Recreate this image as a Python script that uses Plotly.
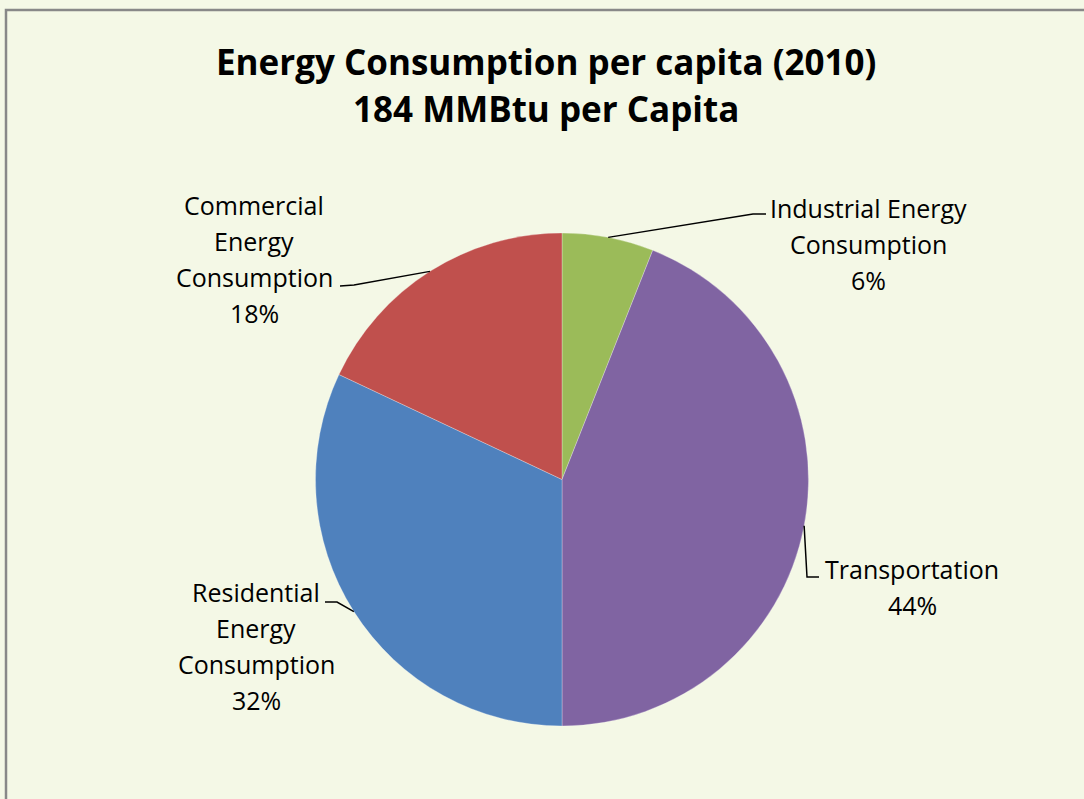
import math
import plotly.graph_objects as go

# Energy use per capita by sector, 2010 (percent of 184 MMBtu)
sectors = ["Industrial Energy Consumption", "Transportation",
           "Residential Energy Consumption", "Commercial Energy Consumption"]
label_lines = [["Industrial Energy", "Consumption"],
               ["Transportation"],
               ["Residential", "Energy", "Consumption"],
               ["Commercial", "Energy", "Consumption"]]
shares = [6, 44, 32, 18]
colors = ["#9BBB59", "#8064A2", "#4F81BD", "#C0504D"]

title_lines = ["Energy Consumption per capita (2010)", "184 MMBtu per Capita"]

W, H = 1084, 799
BG = "#F4F8E6"
FONT = "Open Sans"

# pie placement in pixels
cx, cy, r = 562, 479.5, 246.5


def px(x):
    return x / W


def py(y):
    return 1 - y / H


# label text centre x, first-line centre y, leader elbow and end (pixels)
label_layout = [
    dict(x=868, y=208, elbow=(753, 214), end=(766, 214)),
    dict(x=912, y=569, elbow=(807, 577), end=(819, 577)),
    dict(x=256, y=592, elbow=(337, 602), end=(325, 602)),
    dict(x=254, y=205, elbow=(354, 285), end=(340, 286)),
]
LINE_GAP = 36

fig = go.Figure(go.Pie(
    labels=sectors,
    values=shares,
    marker=dict(colors=colors, line=dict(color="rgba(255,255,255,0.35)", width=0.8)),
    sort=False,
    direction="clockwise",
    rotation=0,
    textinfo="none",
    hoverinfo="label+percent",
    showlegend=False,
    domain=dict(x=[px(cx - r), px(cx + r)], y=[py(cy + r), py(cy - r)]),
))

annotations = []
shapes = []

total = sum(shares)
cum = 0
for name_lines, val, lay in zip(label_lines, shares, label_layout):
    mid = (cum + val / 2) / total * 2 * math.pi
    cum += val
    ex = cx + r * math.sin(mid)
    ey = cy - r * math.cos(mid)
    (bx, by), (tx, ty) = lay["elbow"], lay["end"]
    shapes.append(dict(
        type="path", xref="paper", yref="paper",
        path=f"M {px(ex)} {py(ey)} L {px(bx)} {py(by)} L {px(tx)} {py(ty)}",
        line=dict(color="black", width=1.5),
    ))
    lines = name_lines + [f"{round(val / total * 100)}%"]
    for i, t in enumerate(lines):
        annotations.append(dict(
            x=px(lay["x"]), y=py(lay["y"] + i * LINE_GAP),
            xref="paper", yref="paper", text=t, showarrow=False,
            xanchor="center", yanchor="middle",
            font=dict(family=FONT, size=25, color="black"),
        ))

for i, t in enumerate(title_lines):
    annotations.append(dict(
        x=px(546), y=py(61 + i * 47), xref="paper", yref="paper",
        text=f"<b>{t}</b>", showarrow=False, xanchor="center", yanchor="middle",
        font=dict(family=FONT, size=35, color="black"),
    ))

# chart frame
shapes.append(dict(
    type="rect", xref="paper", yref="paper",
    x0=px(6), y0=-0.05, x1=1.05, y1=py(10),
    line=dict(color="#888888", width=2.5), fillcolor="rgba(0,0,0,0)",
    layer="below",
))

fig.update_layout(
    width=W, height=H,
    margin=dict(l=0, r=0, t=0, b=0),
    paper_bgcolor=BG, plot_bgcolor=BG,
    annotations=annotations,
    shapes=shapes,
)

fig.write_html("out.html")
